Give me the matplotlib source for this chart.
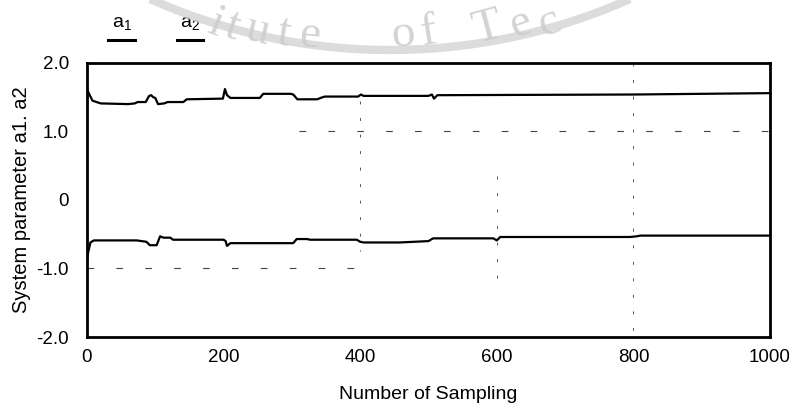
import numpy as np
import matplotlib
matplotlib.use("Agg")
import matplotlib.pyplot as plt
from matplotlib.lines import Line2D

plt.rcParams['font.family'] = ['Liberation Sans', 'DejaVu Sans']
plt.rcParams['mathtext.default'] = 'regular'

# estimated parameters
a1_x = [0, 3, 8, 20, 60, 70, 74, 86, 91, 94, 97, 100, 104, 113, 118, 141, 146, 199, 202, 205,
        210, 253, 258, 298, 302, 308, 337, 342, 348, 397, 401, 405, 500, 505, 508, 513, 800, 1000]
a1_y = [1.62, 1.55, 1.45, 1.41, 1.40, 1.41, 1.43, 1.43, 1.52, 1.53, 1.50, 1.49, 1.40, 1.41, 1.43, 1.43, 1.47, 1.48, 1.62, 1.53,
        1.49, 1.49, 1.55, 1.55, 1.54, 1.47, 1.47, 1.49, 1.51, 1.51, 1.54, 1.52, 1.52, 1.54, 1.48, 1.53, 1.54, 1.56]

a2_x = [0, 2, 5, 10, 73, 87, 92, 102, 107, 112, 122, 126, 200, 203, 205, 210, 302, 307, 322, 327,
        395, 400, 405, 458, 500, 505, 507, 595, 600, 605, 795, 805, 810, 1000]
a2_y = [-0.86, -0.75, -0.62, -0.59, -0.59, -0.61, -0.66, -0.66, -0.53, -0.55, -0.55, -0.58, -0.58, -0.60, -0.67, -0.63, -0.63, -0.57, -0.57, -0.58,
        -0.58, -0.61, -0.62, -0.62, -0.60, -0.57, -0.56, -0.56, -0.59, -0.54, -0.54, -0.53, -0.52, -0.52]

# faint grid remnants left in the scan
hgrid_y = [1.0, -1.0]
hgrid_start = [310, 0]
hgrid_end = [1000, 400]
vgrid_x = [400, 600, 800]
vgrid_top = [1.45, 0.35, 2.0]
vgrid_bottom = [-0.75, -1.2, -2.0]

xticks = [0, 200, 400, 600, 800, 1000]
xticklabels = ['0', '200', '400', '600', '800', '1000']
yticks = [2.0, 1.0, 0, -1.0, -2.0]
yticklabels = ['2.0', '1.0', '0', '-1.0', '-2.0']

W, H = 793, 404
fig = plt.figure(figsize=(W / 100, H / 100), dpi=100)
ax = fig.add_axes([87 / W, 1 - 337 / H, 683 / W, 274 / H])

for y, x0, x1 in zip(hgrid_y, hgrid_start, hgrid_end):
    ax.plot([x0, x1], [y, y], color='#444444', lw=0.8, linestyle=(0, (6, 20)))
for x, y0, y1 in zip(vgrid_x, vgrid_top, vgrid_bottom):
    ax.plot([x, x], [y0, y1], color='#555555', lw=0.7, linestyle=(0, (3, 14)))

ax.plot(a1_x, a1_y, color='black', lw=1.6)
ax.plot(a2_x, a2_y, color='black', lw=1.6)

ax.set_xlim(0, 1000)
ax.set_ylim(-2, 2)
ax.set_xticks(xticks)
ax.set_xticklabels(xticklabels)
ax.set_yticks(yticks)
ax.set_yticklabels(yticklabels)
ax.tick_params(axis='x', length=0, labelsize=13.5, pad=9)
ax.tick_params(axis='y', length=0, labelsize=13.5, pad=13)
for s in ax.spines.values():
    s.set_linewidth(2)
ax.set_xlabel('Number of Sampling', fontsize=14, labelpad=14)
ax.set_ylabel('System parameter a1. a2', fontsize=14.5, labelpad=4)

# legend above the plot
fig.text(122 / W, 1 - 27 / H, 'a$_1$', fontsize=14, ha='center', va='baseline')
fig.text(190 / W, 1 - 27 / H, 'a$_2$', fontsize=14, ha='center', va='baseline')
fig.add_artist(Line2D([108 / W, 135 / W], [1 - 40 / H] * 2, color='black', lw=2.2))
fig.add_artist(Line2D([177 / W, 203 / W], [1 - 40 / H] * 2, color='black', lw=2.2))

# watermark of the scanned page
wm = fig.add_axes([0, 0, 1, 1], zorder=5)
wm.set_xlim(0, W)
wm.set_ylim(H, 0)
wm.axis('off')
t = np.linspace(-0.45, 0.42, 200)
wm.plot(390 + 590 * np.sin(t), -540 + 590 * np.cos(t), color='#d6d6d6', lw=6, alpha=0.85,
        solid_capstyle='butt')
wm_chars = ['i', 't', 'u', 't', 'e', 'o', 'f', 'T', 'e', 'c']
wm_px = [212, 229, 255, 282, 309, 404, 430, 490, 524, 553]
wm_py = [34, 38, 42, 45, 47, 46, 44, 39, 35, 33]
wm_rot = [-22, -18, -13, -9, -5, 5, 9, 15, 19, 21]
for c, px, py, r in zip(wm_chars, wm_px, wm_py, wm_rot):
    wm.text(px, py, c, fontsize=34, family='Liberation Serif', color='#cccccc', alpha=0.85,
            ha='center', va='baseline', rotation=r, rotation_mode='anchor')

fig.savefig('out.png', dpi=100)
